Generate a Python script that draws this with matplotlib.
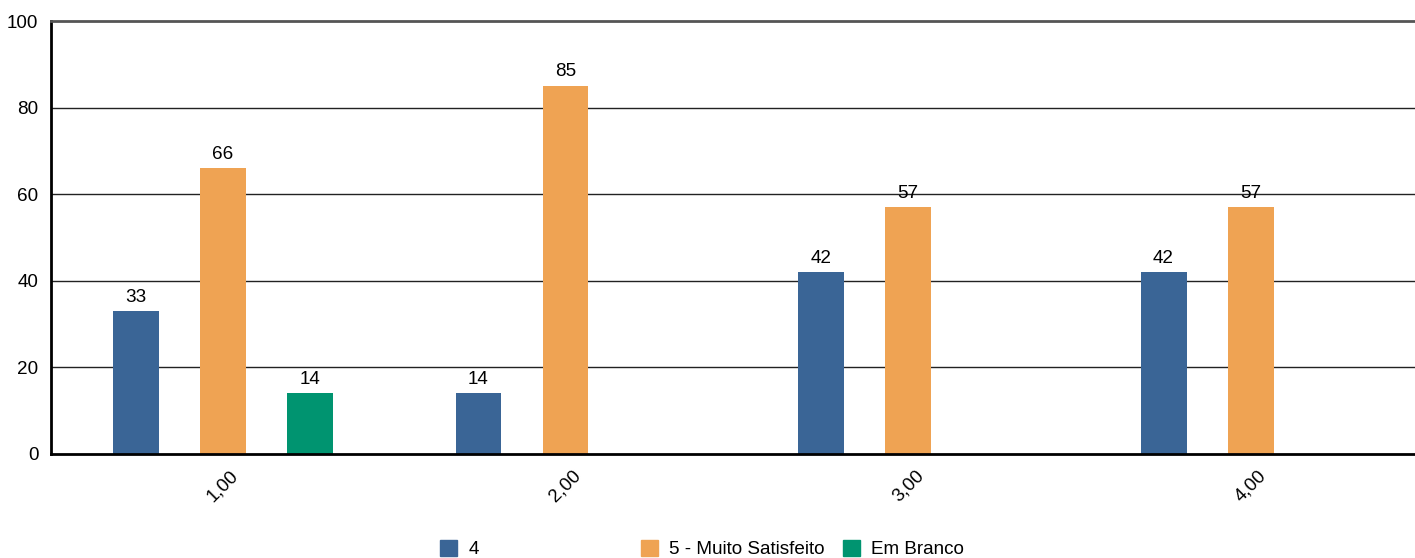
import matplotlib.pyplot as plt
import matplotlib.transforms as mtransforms
import numpy as np

plt.rcParams['font.family'] = ['Liberation Sans', 'DejaVu Sans']

# data
categories = ['1,00', '2,00', '3,00', '4,00']
series_names = ['4', '5 - Muito Satisfeito', 'Em Branco']
vals_4 = [33, 14, 42, 42]
vals_5 = [66, 85, 57, 57]
vals_branco = [14, 0, 0, 0]
yticks = [0, 20, 40, 60, 80, 100]

colors = ['#3a6596', '#efa353', '#009470']
fs = 13.6

fig = plt.figure(figsize=(14.15, 5.58), dpi=100)
ax = fig.add_axes([51 / 1415, 1 - 454 / 558, 1 - 51 / 1415, (454 - 21) / 558])

x = np.arange(len(categories))
step = 0.254
width = 0.134
all_series = [vals_4, vals_5, vals_branco]
for i, (vals, col) in enumerate(zip(all_series, colors)):
    b = ax.bar(x + (i - 1) * step, vals, width, color=col, zorder=3)
    for rect, v in zip(b, vals):
        if v == 0:
            continue
        ax.annotate(str(v), (rect.get_x() + rect.get_width() / 2, v),
                    xytext=(0, 4), textcoords='offset points',
                    ha='center', va='bottom', fontsize=fs, zorder=4)

ax.set_xlim(-0.502, 3.48)
ax.set_ylim(0, 100)
ax.set_yticks(yticks)
ax.set_yticklabels([str(t) for t in yticks], fontsize=fs)
ax.set_xticks(x)
ax.set_xticklabels(categories, rotation=45, ha='center', va='top', fontsize=fs)
shift = mtransforms.ScaledTranslation(-7 / 100, 0, fig.dpi_scale_trans)
for lbl in ax.get_xticklabels():
    lbl.set_transform(lbl.get_transform() + shift)
ax.tick_params(axis='y', length=0, pad=9)
ax.tick_params(axis='x', length=0, pad=9.5)

for t in yticks[1:-1]:
    ax.axhline(t, color='#222222', lw=1, zorder=1)

ax.spines['right'].set_visible(False)
ax.spines['top'].set_color('#555555')
ax.spines['top'].set_linewidth(2)
ax.spines['left'].set_linewidth(2)
ax.spines['bottom'].set_linewidth(2)
ax.spines['bottom'].set_zorder(5)

# legend entries sit in fixed-width slots along the bottom
legend_x = [440, 641, 843]
for name, col, lx in zip(series_names, colors, legend_x):
    h = plt.Rectangle((0, 0), 1, 1, color=col)
    fig.legend([h], [name], loc='center left',
               bbox_to_anchor=(lx / 1415, 1 - 549 / 558),
               frameon=False, fontsize=fs, borderpad=0, borderaxespad=0,
               handlelength=0.9, handleheight=0.9, handletextpad=0.6)

fig.savefig('out.png', dpi=100)
